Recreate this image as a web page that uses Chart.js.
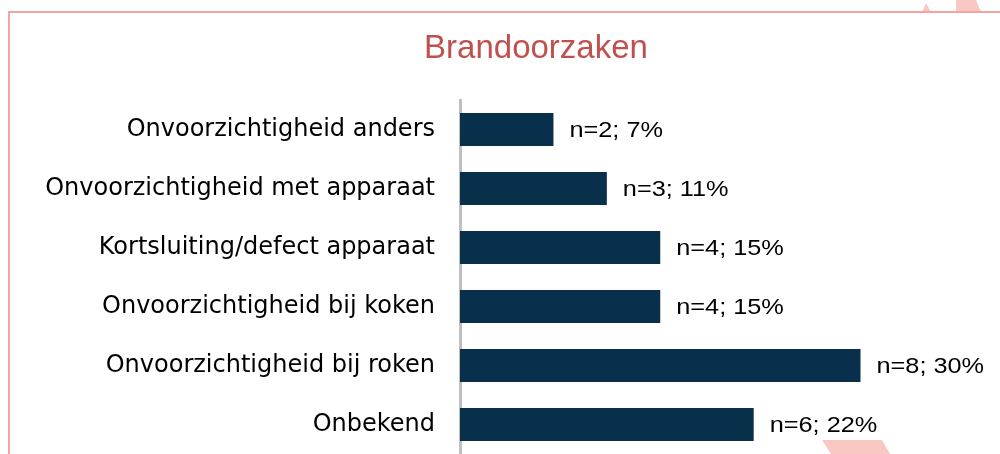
<!DOCTYPE html>
<html>
<head>
<meta charset="utf-8">
<script src="https://cdn.jsdelivr.net/npm/chart.js@4/dist/chart.umd.min.js"></script>
<style>
  html, body { margin: 0; padding: 0; background: #fff; }
  #wrap { position: relative; width: 1000px; height: 454px; }
</style>
</head>
<body>
<div id="wrap"><canvas id="brandoorzaken" width="1000" height="454"></canvas></div>
<script>
const chartTitle = 'Brandoorzaken';
const categories = [
    'Onvoorzichtigheid anders',
    'Onvoorzichtigheid met apparaat',
    'Kortsluiting/defect apparaat',
    'Onvoorzichtigheid bij koken',
    'Onvoorzichtigheid bij roken',
    'Onbekend',
];
const counts = [2, 3, 4, 4, 8, 6];
const percents = [7, 11, 15, 15, 30, 22];

// slide frame, pink corner shapes and the title
const slideDecor = {
    id: 'slideDecor',
    beforeDraw(chart) {
        const ctx = chart.ctx;
        ctx.save();
        ctx.fillStyle = '#f9c8c3';
        ctx.beginPath();
        ctx.moveTo(922, 12); ctx.lineTo(926, 3); ctx.lineTo(931, 12);
        ctx.closePath(); ctx.fill();
        ctx.beginPath();
        ctx.moveTo(956, 12); ctx.lineTo(956, 0); ctx.lineTo(976, 0); ctx.lineTo(981, 12);
        ctx.closePath(); ctx.fill();
        ctx.beginPath();
        ctx.moveTo(822, 440); ctx.lineTo(882, 440); ctx.lineTo(890, 454); ctx.lineTo(831, 454);
        ctx.closePath(); ctx.fill();
        ctx.fillStyle = '#f4a3a3';
        ctx.fillRect(8, 11, 992, 2);
        ctx.fillRect(8, 11, 2, 443);

        ctx.fillStyle = '#c0504d';
        ctx.font = '33px "Liberation Sans", Arial, sans-serif';
        ctx.textAlign = 'center';
        ctx.textBaseline = 'alphabetic';
        ctx.fillText(chartTitle, 536, 58);
        ctx.restore();
    }
};

// "n=..; ..%" labels after each bar
const valueLabels = {
    id: 'valueLabels',
    afterDatasetsDraw(chart) {
        const ctx = chart.ctx;
        const meta = chart.getDatasetMeta(0);
        ctx.save();
        ctx.font = '22px "Liberation Sans", Arial, sans-serif';
        ctx.fillStyle = '#000';
        ctx.textBaseline = 'middle';
        ctx.textAlign = 'left';
        meta.data.forEach((bar, i) => {
            ctx.save();
            ctx.translate(bar.x + 16, bar.y + 1);
            ctx.scale(1.15, 1);
            ctx.fillText(`n=${counts[i]}; ${percents[i]}%`, 0, 0);
            ctx.restore();
        });
        ctx.restore();
    }
};

new Chart(document.getElementById('brandoorzaken'), {
    type: 'bar',
    data: {
        labels: categories,
        datasets: [{
            data: percents,
            backgroundColor: '#08304a',
            categoryPercentage: 1,
            barPercentage: 0.56,
        }]
    },
    options: {
        indexAxis: 'y',
        responsive: false,
        animation: false,
        layout: {
            padding: { left: 20, right: 6, top: 100, bottom: 0 }
        },
        plugins: {
            legend: { display: false },
            tooltip: { enabled: false },
            title: { display: false }
        },
        scales: {
            x: {
                display: false,
                min: 0,
                max: 40,
            },
            y: {
                grid: { display: false, drawTicks: false },
                border: { display: true, color: '#bfbfbf', width: 3 },
                ticks: {
                    color: '#000',
                    padding: 25,
                    font: { family: '"DejaVu Sans", Verdana, sans-serif', size: 24 }
                },
                afterFit(scale) {
                    scale.width = 440;
                    scale.paddingTop = 0;
                    scale.paddingBottom = 0;
                }
            }
        }
    },
    plugins: [slideDecor, valueLabels]
});
</script>
</body>
</html>
